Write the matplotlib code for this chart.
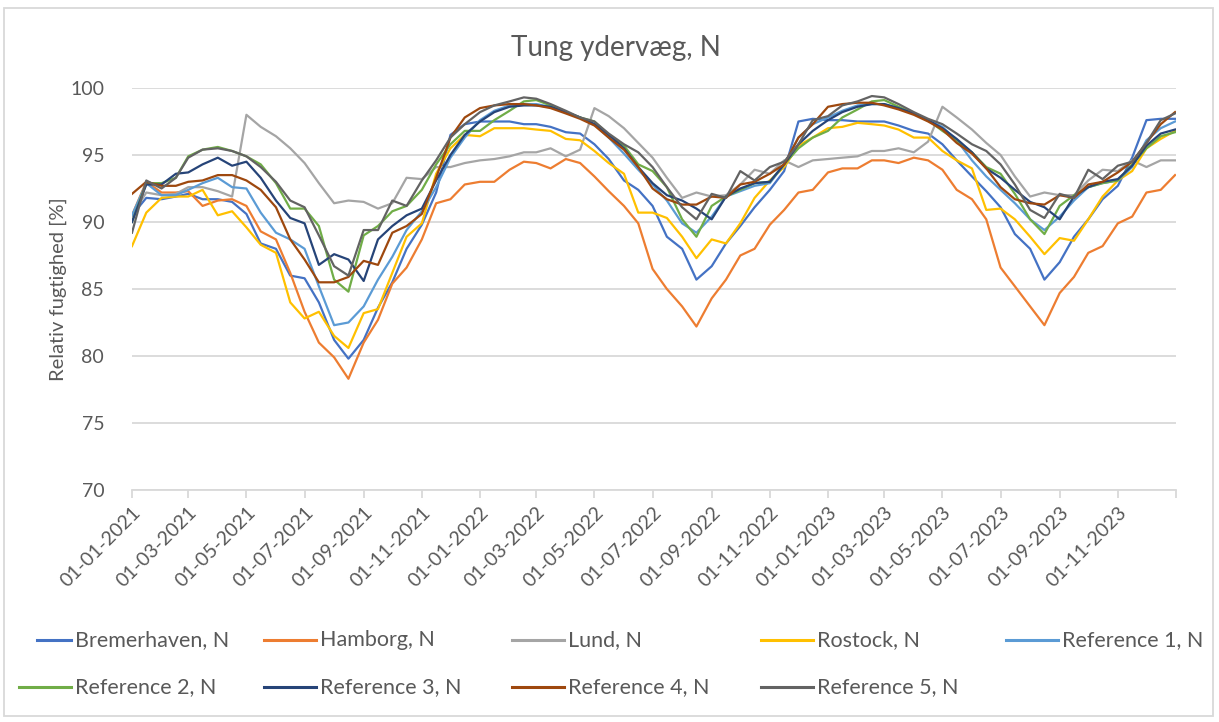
import datetime as dt
import matplotlib
matplotlib.use("Agg")
import matplotlib.pyplot as plt
from matplotlib.lines import Line2D
from matplotlib.patches import Rectangle

# semi-monthly readings (1st and 16th of each month), 2021-01-01 .. 2023-12-31
dates = []
for y in (2021, 2022, 2023):
    for m in range(1, 13):
        dates.append(dt.datetime(y, m, 1))
        dates.append(dt.datetime(y, m, 16))
dates.append(dt.datetime(2023, 12, 31))

bremerhaven = [90.5, 91.8, 91.7, 91.9, 92.1, 91.7, 91.7, 91.5, 90.6, 88.4, 88.0, 86.0,
               85.8, 84.0, 81.2, 79.8, 81.2, 83.6, 85.5, 88.0, 89.8, 92.2, 96.5, 97.3,
               97.5, 97.5, 97.5, 97.3, 97.3, 97.1, 96.7, 96.6, 95.8, 94.7, 93.1, 92.4,
               91.2, 88.9, 88.0, 85.7, 86.7, 88.4, 89.7, 91.1, 92.4, 93.8, 97.5, 97.7,
               97.6, 97.6, 97.5, 97.5, 97.5, 97.2, 96.8, 96.6, 95.8, 94.6, 93.4, 92.3,
               91.1, 89.1, 88.0, 85.7, 87.0, 88.9, 90.2, 91.7, 92.7, 94.8, 97.6, 97.7,
               97.7]
hamborg = [90.5, 93.0, 92.2, 92.2, 92.3, 91.2, 91.6, 91.7, 91.2, 89.3, 88.7, 86.2,
           83.3, 81.0, 79.9, 78.3, 81.0, 82.7, 85.4, 86.6, 88.7, 91.4, 91.7, 92.8,
           93.0, 93.0, 93.9, 94.5, 94.4, 94.0, 94.7, 94.4, 93.4, 92.3, 91.2, 89.9,
           86.5, 85.0, 83.7, 82.2, 84.3, 85.7, 87.5, 88.0, 89.8, 90.9, 92.2, 92.4,
           93.7, 94.0, 94.0, 94.6, 94.6, 94.4, 94.8, 94.6, 93.9, 92.4, 91.7, 90.2,
           86.6, 85.2, 83.7, 82.3, 84.7, 85.9, 87.7, 88.2, 89.9, 90.4, 92.2, 92.4,
           93.5]
lund = [90.5, 92.2, 92.0, 92.1, 92.6, 92.6, 92.3, 91.9, 98.0, 97.1, 96.4, 95.5,
        94.4, 92.9, 91.4, 91.6, 91.5, 91.0, 91.4, 93.3, 93.2, 94.1, 94.1, 94.4,
        94.6, 94.7, 94.9, 95.2, 95.2, 95.5, 94.9, 95.4, 98.5, 97.9, 97.0, 95.9,
        94.8, 93.3, 91.8, 92.2, 91.9, 92.0, 92.8, 93.9, 93.6, 94.6, 94.1, 94.6,
        94.7, 94.8, 94.9, 95.3, 95.3, 95.5, 95.2, 96.0, 98.6, 97.8, 96.9, 95.9,
        95.0, 93.4, 91.9, 92.2, 92.0, 92.0, 93.1, 93.9, 93.8, 94.6, 94.1, 94.6,
        94.6]
rostock = [88.2, 90.7, 91.8, 91.9, 91.9, 92.4, 90.5, 90.8, 89.6, 88.3, 87.7, 84.0,
           82.8, 83.3, 81.5, 80.6, 83.2, 83.5, 86.2, 88.9, 89.9, 93.6, 95.5, 96.5,
           96.4, 97.0, 97.0, 97.0, 96.9, 96.8, 96.2, 96.1, 95.3, 94.4, 93.6, 90.7,
           90.7, 90.3, 88.9, 87.3, 88.7, 88.4, 89.9, 91.8, 93.1, 94.1, 95.7, 96.3,
           97.0, 97.1, 97.4, 97.3, 97.2, 96.9, 96.3, 96.3, 95.3, 94.6, 94.0, 90.9,
           91.0, 90.2, 88.9, 87.6, 88.8, 88.6, 90.2, 91.9, 93.1, 93.8, 95.5, 96.2,
           96.8]
ref1 = [90.5, 92.9, 92.0, 92.0, 92.4, 92.9, 93.3, 92.6, 92.5, 90.7, 89.2, 88.7,
        88.0, 85.2, 82.3, 82.5, 83.7, 85.7, 87.4, 89.4, 90.8, 92.6, 94.8, 96.3,
        97.6, 98.3, 98.7, 98.8, 98.8, 98.6, 98.2, 97.8, 97.3, 96.3, 95.1, 93.9,
        92.8, 91.6, 89.9, 89.2, 90.4, 91.9, 92.3, 92.7, 92.9, 94.3, 96.3, 97.3,
        97.8, 98.3, 98.7, 98.8, 98.8, 98.5, 98.1, 97.6, 97.1, 96.1, 94.6, 93.4,
        92.4, 91.4, 90.2, 89.4, 90.4, 91.6, 92.6, 92.9, 93.1, 94.1, 96.1, 97.0,
        97.5]
ref2 = [90.0, 92.9, 92.9, 93.3, 94.9, 95.4, 95.6, 95.3, 94.9, 94.3, 92.9, 91.0,
        91.0, 89.7, 85.7, 84.8, 89.0, 89.7, 90.8, 91.2, 92.4, 94.3, 95.8, 96.8,
        96.8, 97.6, 98.3, 99.0, 99.1, 98.7, 98.2, 97.8, 97.5, 96.5, 95.7, 94.3,
        93.8, 92.6, 90.2, 88.9, 91.2, 91.9, 92.4, 92.9, 93.0, 94.3, 95.5, 96.3,
        96.8, 97.8, 98.4, 99.0, 99.1, 98.6, 98.1, 97.6, 96.8, 96.1, 95.2, 94.1,
        93.6, 92.1, 90.2, 89.1, 91.2, 92.0, 92.6, 92.9, 93.1, 94.3, 95.5, 96.4,
        96.7]
ref3 = [90.0, 92.8, 92.8, 93.6, 93.7, 94.3, 94.8, 94.2, 94.5, 93.3, 91.6, 90.3,
        89.9, 86.8, 87.6, 87.2, 85.6, 88.7, 89.7, 90.5, 91.0, 93.1, 95.0, 96.5,
        97.5, 98.2, 98.6, 98.7, 98.7, 98.6, 98.2, 97.8, 97.3, 96.5, 95.5, 94.1,
        92.9, 92.0, 91.6, 91.0, 90.2, 91.9, 92.5, 92.9, 93.0, 94.3, 95.8, 96.8,
        97.6, 98.2, 98.6, 98.8, 98.8, 98.5, 98.1, 97.6, 97.0, 96.2, 95.2, 94.0,
        93.3, 92.4, 91.5, 91.1, 90.2, 91.9, 92.6, 93.0, 93.2, 94.2, 95.7, 96.6,
        96.9]
ref4 = [92.1, 93.0, 92.7, 92.7, 93.0, 93.1, 93.5, 93.5, 93.1, 92.4, 91.1, 88.7,
        87.2, 85.5, 85.5, 85.9, 87.1, 86.8, 89.2, 89.7, 90.6, 93.3, 96.3, 97.8,
        98.5, 98.7, 98.8, 98.8, 98.7, 98.5, 98.1, 97.7, 97.2, 96.3, 95.4, 94.1,
        92.5, 91.7, 91.3, 91.3, 91.9, 91.8, 92.8, 93.0, 93.6, 94.3, 96.3, 97.3,
        98.6, 98.8, 98.9, 98.9, 98.7, 98.4, 98.0, 97.5, 96.9, 95.9, 95.1, 94.0,
        92.6, 91.7, 91.4, 91.3, 92.0, 91.8, 92.8, 93.0, 93.7, 94.5, 95.9, 97.3,
        98.2]
ref5 = [89.2, 93.1, 92.5, 93.3, 94.8, 95.4, 95.5, 95.3, 94.9, 94.1, 93.0, 91.6,
        91.1, 89.0, 86.7, 86.0, 89.4, 89.4, 91.6, 91.2, 93.1, 94.6, 96.3, 97.3,
        98.2, 98.7, 99.0, 99.3, 99.2, 98.8, 98.3, 97.8, 97.5, 96.6, 95.8, 95.2,
        94.1, 92.6, 91.1, 90.2, 92.1, 91.8, 93.8, 93.1, 94.1, 94.5, 95.8, 97.6,
        97.9, 98.7, 99.0, 99.4, 99.3, 98.8, 98.2, 97.7, 97.3, 96.6, 95.8, 95.3,
        94.3, 92.8, 90.9, 90.3, 92.1, 91.8, 93.9, 93.2, 94.2, 94.5, 95.9, 97.6,
        98.1]

series = [
    ("Bremerhaven, N", bremerhaven, "#4472C4"),
    ("Hamborg, N", hamborg, "#ED7D31"),
    ("Lund, N", lund, "#A5A5A5"),
    ("Rostock, N", rostock, "#FFC000"),
    ("Reference 1, N", ref1, "#5B9BD5"),
    ("Reference 2, N", ref2, "#70AD47"),
    ("Reference 3, N", ref3, "#264478"),
    ("Reference 4, N", ref4, "#9E480E"),
    ("Reference 5, N", ref5, "#636363"),
]

txt = "#595959"
grid = "#D9D9D9"
plt.rcParams["font.family"] = ["Lato", "DejaVu Sans"]

fig = plt.figure(figsize=(12.19, 7.22), dpi=100)
ax = fig.add_axes([132 / 1219, 1 - 490 / 722, (1176 - 132) / 1219, (490 - 88) / 722])

for name, vals, col in series:
    ax.plot(dates, vals, color=col, lw=1.6, label=name, solid_joinstyle="round")

ax.set_xlim(dt.datetime(2021, 1, 1), dt.datetime(2024, 1, 1))
ax.set_ylim(70, 100)
ax.set_yticks(range(70, 101, 5))
ax.grid(axis="y", color=grid, lw=1.3)
ax.set_axisbelow(True)

xt = [dt.datetime(y, m, 1) for y in (2021, 2022, 2023) for m in (1, 3, 5, 7, 9, 11)]
ax.set_xticks(xt + [dt.datetime(2024, 1, 1)])
ax.set_xticklabels([d.strftime("%d-%m-%Y") for d in xt] + [""])
for lab in ax.get_xticklabels():
    lab.set_rotation(45)
    lab.set_ha("right")
    lab.set_rotation_mode("anchor")
ax.tick_params(axis="x", colors=grid, labelcolor=txt, labelsize=14, length=6, width=1.3, pad=4)
ax.tick_params(axis="y", length=0, labelcolor=txt, labelsize=14, pad=20)

for s in ("top", "right", "left"):
    ax.spines[s].set_visible(False)
ax.spines["bottom"].set_color(grid)
ax.spines["bottom"].set_linewidth(1.3)

ax.set_ylabel("Relativ fugtighed [%]", color=txt, fontsize=14.5, labelpad=2)
fig.text(616 / 1219, 1 - 48 / 722, "Tung ydervæg, N", color=txt, fontsize=20,
         ha="center", va="center")

# legend laid out like the Excel one: two rows, five columns
cols = [75, 320, 568, 817, 1062]
for i, (name, vals, col) in enumerate(series):
    r, c = divmod(i, 5)
    fy = 1 - (640 + 47 * r) / 722
    x1 = cols[c] - 4
    x0 = 37 if i == 0 else x1 - 52
    fig.add_artist(Line2D([x0 / 1219, x1 / 1219], [fy, fy], color=col, lw=2.2,
                          transform=fig.transFigure))
    fig.text(cols[c] / 1219, fy, name, color=txt, fontsize=15.5, ha="left", va="center")

fig.add_artist(Rectangle((4 / 1219, 6 / 722), 1209 / 1219, 708 / 722, fill=False,
                         edgecolor=grid, lw=1.3, transform=fig.transFigure))

fig.savefig("out.png", dpi=100, facecolor="white")
